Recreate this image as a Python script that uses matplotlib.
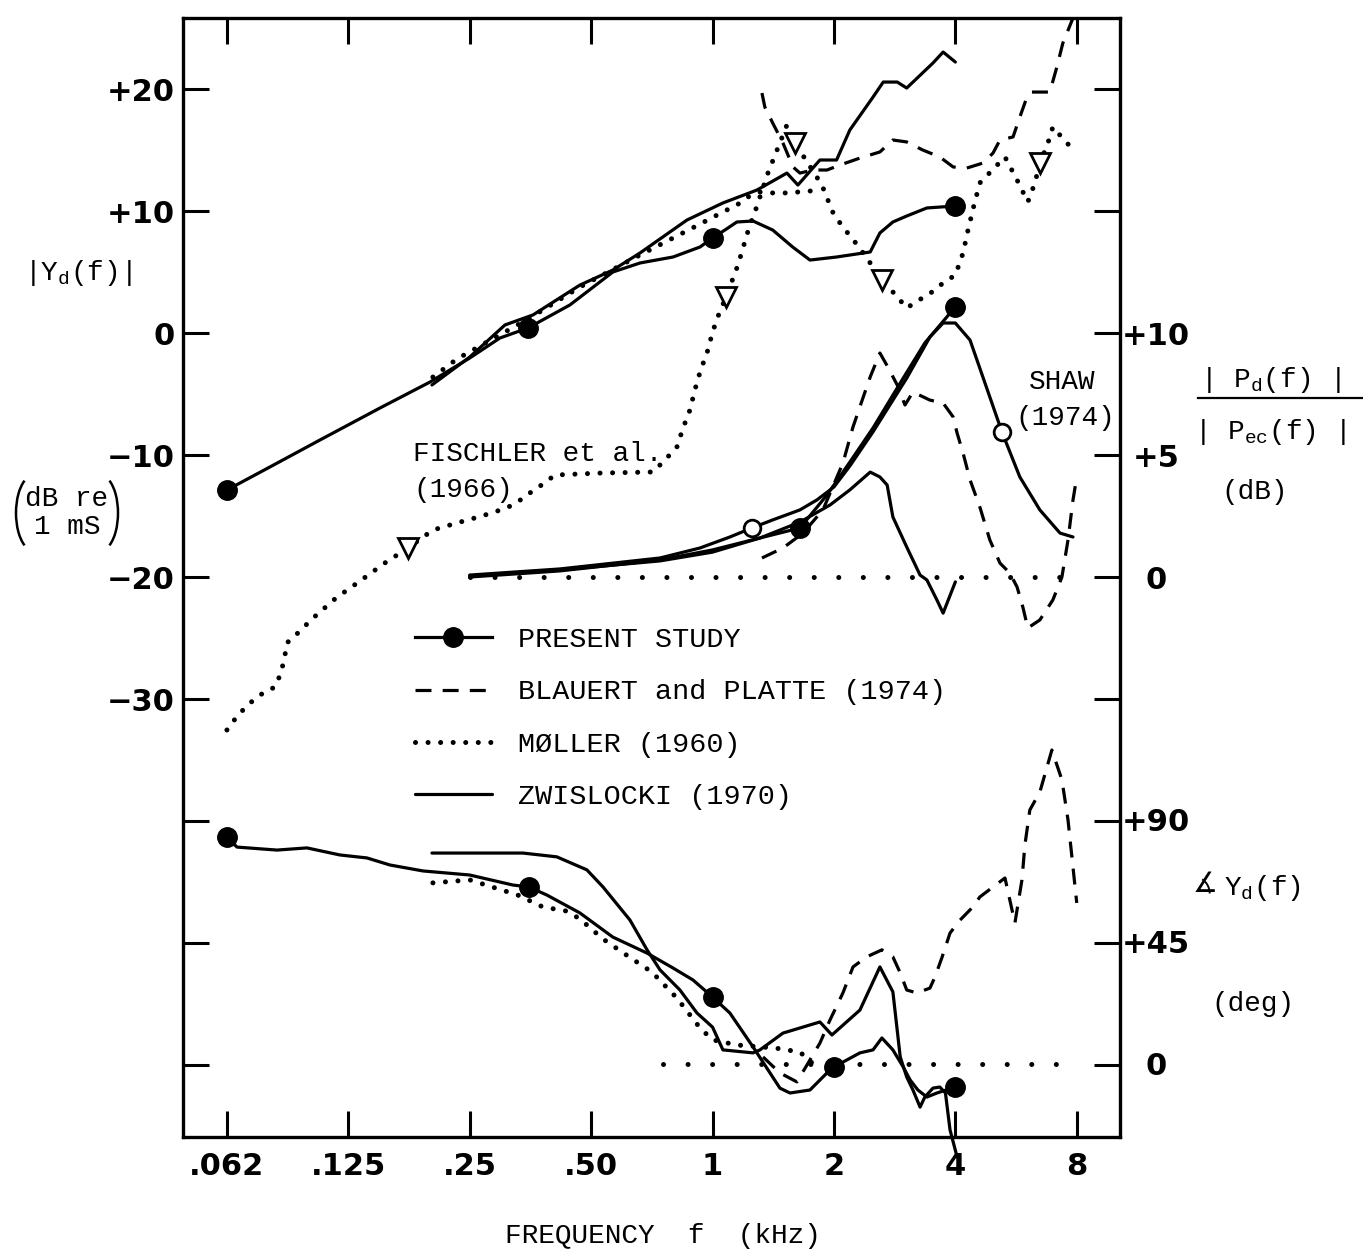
import matplotlib
matplotlib.use("Agg")
import matplotlib.pyplot as plt
from matplotlib.lines import Line2D
from matplotlib.patches import Arc
from matplotlib.ticker import NullLocator
from matplotlib.font_manager import FontProperties

# ---------------- data (frequency in kHz) ----------------
# |Y_d(f)|  (dB re 1 mS)
present_mag_f = [0.0625, 0.0799, 0.1063, 0.1497, 0.1992, 0.25, 0.297, 0.3486, 0.443, 0.566, 0.661, 0.798,
                 0.931, 1.0, 1.073, 1.149, 1.26, 1.41, 1.58, 1.744, 2.03, 2.46, 2.60, 2.80, 3.03, 3.40, 4.0]
present_mag_db = [-12.87, -10.98, -8.77, -6.15, -4.02, -2.05, -0.41, 0.41, 2.30, 5.0, 5.74, 6.23,
                  7.05, 7.79, 8.44, 9.10, 9.18, 8.44, 7.05, 5.98, 6.23, 6.64, 8.20, 9.10, 9.59, 10.25, 10.41]
present_mag_pts_f = [0.0625, 0.3486, 1.0, 4.0]
present_mag_pts_db = [-12.87, 0.41, 7.79, 10.41]

zwis_mag_f = [0.2015, 0.25, 0.3057, 0.3587, 0.469, 0.566, 0.661, 0.864, 1.061, 1.289, 1.529, 1.628,
              1.846, 2.03, 2.19, 2.50, 2.65, 2.87, 3.03, 3.52, 3.73, 4.0]
zwis_mag_db = [-4.26, -1.97, 0.66, 1.48, 3.93, 5.16, 6.56, 9.26, 10.66, 11.72, 13.11, 12.13,
               14.18, 14.18, 16.64, 19.34, 20.57, 20.57, 20.08, 22.13, 23.03, 22.21]

moller_mag_f = [0.2026, 0.2324, 0.268, 0.3525, 0.469, 0.661, 0.931, 1.061, 1.149, 1.224, 1.311, 1.41, 1.529, 1.867]
moller_mag_db = [-3.61, -2.13, -0.98, 1.23, 3.77, 6.39, 8.93, 9.92, 10.49, 11.15, 11.56, 11.48, 11.48, 11.72]

fischler_f = [0.0625, 0.0666, 0.0713, 0.0768, 0.0822, 0.0851, 0.0870, 0.0880, 0.0943, 0.1016, 0.1165, 0.1336,
              0.154, 0.1757, 0.2026, 0.2324, 0.268, 0.309, 0.331, 0.3525, 0.3797, 0.4067, 0.526, 0.712,
              0.762, 0.816, 0.845, 0.879, 0.904, 0.931, 0.974, 1.0, 1.037, 1.080, 1.156, 1.231, 1.281,
              1.372, 1.529, 1.601, 1.867, 2.0, 2.154, 2.307, 2.46, 2.63, 2.83, 3.03, 3.25, 3.50, 3.73,
              4.0, 4.18, 4.30, 4.45, 4.60, 5.31, 5.69, 6.05, 6.30, 6.48, 6.75, 6.98, 7.48, 8.0]
fischler_db = [-32.54, -31.31, -30.33, -29.51, -29.02, -27.87, -26.48, -25.41, -24.51, -23.44, -21.72, -20.33,
               -18.85, -17.62, -16.15, -15.57, -15.0, -14.34, -13.77, -13.11, -12.38, -11.64, -11.48, -11.39,
               -10.41, -9.34, -7.79, -6.31, -4.67, -3.20, -1.39, 0.08, 1.56, 2.95, 5.57, 8.61, 10.16,
               13.11, 17.05, 15.57, 12.13, 9.67, 8.28, 7.05, 5.74, 4.34, 3.20, 2.05, 2.70, 3.36, 4.10,
               4.75, 6.56, 8.44, 10.49, 12.30, 14.43, 12.54, 10.74, 12.30, 13.93, 15.33, 16.89, 15.74, 14.75]
fischler_tri_f = [0.1757, 1.080, 1.601, 2.63, 6.48]
fischler_tri_db = [-17.62, 2.95, 15.57, 4.34, 13.93]

blauert_mag_f = [1.326, 1.348, 1.41, 1.495, 1.583, 1.647, 1.774, 1.922, 2.07, 2.32, 2.60, 2.80, 3.03, 3.32,
                 3.66, 3.95, 4.27, 4.68, 4.96, 5.16, 5.56, 5.78, 6.02, 6.19, 6.86, 7.14, 7.39, 7.83]
blauert_mag_db = [19.67, 18.52, 17.21, 15.57, 13.61, 13.11, 13.36, 13.36, 13.77, 14.34, 14.84, 15.82, 15.66, 15.0,
                  14.43, 13.61, 13.52, 13.93, 14.75, 15.82, 16.07, 17.70, 19.34, 19.75, 19.75, 21.80, 23.77, 25.82]

# |P_d(f)| / |P_ec(f)|  (dB)
present_p_f = [0.25, 0.418, 0.741, 1.0, 1.311, 1.647, 1.922, 2.19, 2.50, 2.92, 3.36, 4.0]
present_p_db = [0.04, 0.29, 0.66, 1.02, 1.60, 2.01, 3.36, 4.71, 6.11, 7.95, 9.59, 11.07]
present_p_pts_f = [1.647, 4.0]
present_p_pts_db = [2.01, 11.07]

shaw_f = [0.25, 0.418, 0.741, 0.931, 1.104, 1.252, 1.41, 1.647, 1.815, 2.0, 2.19, 2.50, 3.03, 3.46, 3.73,
          4.0, 4.35, 4.68, 5.22, 5.78, 6.48, 7.27, 7.83]
shaw_db = [0.08, 0.33, 0.78, 1.19, 1.64, 2.01, 2.34, 2.75, 3.16, 3.69, 4.55, 5.95, 8.15, 9.84, 10.41,
           10.41, 9.71, 8.20, 5.94, 4.10, 2.75, 1.80, 1.64]
shaw_pts_f = [1.252, 5.22]
shaw_pts_db = [2.01, 5.94]

zwis_p_f = [0.25, 0.418, 0.741, 1.0, 1.311, 1.647, 1.955, 2.19, 2.46, 2.60, 2.71, 2.80, 3.03, 3.27, 3.40,
            3.60, 3.73, 4.0]
zwis_p_db = [0.0, 0.25, 0.70, 1.11, 1.60, 2.25, 2.95, 3.57, 4.30, 4.10, 3.77, 2.46, 1.23, 0.08, -0.12,
             -0.94, -1.48, -0.20]

blauert_p_f = [1.326, 1.495, 1.676, 1.878, 2.105, 2.23, 2.35, 2.46, 2.60, 2.72, 2.87, 3.0, 3.14, 3.46, 3.73,
               3.95, 4.04, 4.18, 4.35, 4.60, 4.87, 5.16, 5.46, 5.69, 5.88, 6.05, 6.48, 6.98, 7.35, 7.61,
               7.83, 8.0]
blauert_p_db = [0.78, 1.19, 1.80, 2.75, 4.67, 6.15, 7.25, 8.20, 9.18, 8.61, 7.87, 7.05, 7.58, 7.25, 7.13,
                6.56, 5.90, 5.08, 3.98, 2.87, 1.52, 0.57, 0.16, -0.41, -1.23, -2.09, -1.76, -0.94, 0.0, 1.52,
                3.16, 4.10]

moller_p_f = [0.25, 8.0]
moller_p_db = [0.0, 0.0]

# phase of Y_d(f)  (deg)
present_ph_f = [0.0625, 0.0662, 0.0832, 0.0987, 0.1191, 0.139, 0.1585, 0.1914, 0.25, 0.320, 0.3506, 0.3885,
                0.469, 0.566, 0.688, 0.798, 0.894, 1.0, 1.104, 1.26, 1.469, 1.556, 1.744, 1.922, 2.0, 2.32,
                2.50, 2.63, 2.80, 2.97, 3.09, 3.23, 3.40, 3.60, 4.0]
present_ph_deg = [83.7, 80.0, 78.9, 79.7, 77.1, 76.0, 73.4, 71.2, 69.7, 66.0, 65.3, 62.3,
                  55.7, 46.8, 40.9, 35.4, 31.0, 24.7, 18.8, 6.3, -8.9, -10.7, -9.6, -3.3, -1.1, 4.1,
                  5.2, 9.6, 5.2, -1.1, -5.9, -9.6, -12.2, -10.7, -8.5]
present_ph_pts_f = [0.0625, 0.3506, 1.0, 2.0, 4.0]
present_ph_pts_deg = [83.7, 65.3, 24.7, -1.1, -8.5]

zwis_ph_f = [0.2015, 0.3387, 0.411, 0.488, 0.535, 0.624, 0.688, 0.741, 0.830, 0.915, 1.0, 1.061, 1.26,
             1.311, 1.495, 1.846, 1.977, 2.32, 2.60, 2.80, 2.92, 3.03, 3.14, 3.27, 3.36, 3.52, 3.66,
             3.78, 3.88, 4.04]
zwis_ph_deg = [77.8, 77.8, 76.4, 71.6, 65.3, 53.1, 42.1, 34.7, 27.3, 18.8, 13.6, 5.2, 4.1,
               5.2, 11.4, 15.5, 10.7, 19.9, 35.8, 26.6, 2.6, -4.8, -9.6, -15.9, -12.2, -8.9, -8.5,
               -10.7, -24.3, -34.3]

moller_ph_f = [0.2026, 0.25, 0.329, 0.3797, 0.435, 0.469, 0.535, 0.617, 0.7075, 0.816, 0.931, 1.0,
               1.149, 1.428, 1.647, 1.764]
moller_ph_deg = [66.8, 67.9, 62.3, 57.9, 56.4, 53.5, 46.1, 39.8, 33.9, 24.3, 13.3, 8.9,
                 7.0, 5.9, 4.4, 0.4]

zero_ph_f = [0.753, 8.0]
zero_ph_deg = [0.0, 0.0]

blauert_ph_f = [1.334, 1.469, 1.619, 1.714, 1.846, 1.955, 2.105, 2.23, 2.41, 2.63, 2.80, 2.92, 3.03, 3.21,
                3.46, 3.56, 3.71, 3.88, 4.11, 4.42, 4.60, 4.96, 5.31, 5.62, 5.85, 5.95, 6.12, 6.48, 6.94,
                7.35, 7.61, 8.0]
blauert_ph_deg = [2.6, -3.3, -6.6, -0.4, 7.7, 16.2, 26.2, 35.8, 39.5, 42.1, 39.5, 33.6, 27.3, 26.2,
                  28.0, 32.1, 39.5, 48.3, 53.1, 57.9, 61.6, 65.3, 68.6, 52.0, 67.9, 80.8, 93.7, 100.3, 115.8,
                  104.8, 90.0, 59.4]

x_ticks = [0.0625, 0.125, 0.25, 0.5, 1, 2, 4, 8]
x_ticklabels = ['.062', '.125', '.25', '.50', '1', '2', '4', '8']
mag_ticks = [20, 10, 0, -10, -20, -30, -40, -50, -60]
mag_ticklabels = ['+20', '+10', '0', '\u221210', '\u221220', '\u221230', '', '', '']
p_ticks = [10, 5, 0]
p_ticklabels = ['+10', '+5', '0']
ph_ticks = [90, 45, 0]
ph_ticklabels = ['+90', '+45', '0']

# ---------------- figure ----------------
W, H = 1363, 1251
fig = plt.figure(figsize=(W / 100, H / 100), dpi=100)
L, R, T, B = 183, 1120, 18, 1137
ax = fig.add_axes([L / W, 1 - B / H, (R - L) / W, (B - T) / H])
ax2 = ax.twinx()
ax3 = ax.twinx()

MONO = 'Liberation Mono'
LW = 2.3
solid = dict(color='black', lw=LW, solid_joinstyle='round', solid_capstyle='round')
dashed = dict(color='black', lw=LW, linestyle=(0, (5, 3.5)), dash_capstyle='butt')
dotted = dict(color='black', lw=3.6, linestyle=(0, (0.01, 2.5)), dash_capstyle='round')
dotted_sparse = dict(color='black', lw=3.6, linestyle=(0, (0.01, 4.9)), dash_capstyle='round')

for a in (ax, ax2, ax3):
    a.set_xscale('log', base=2)
    a.set_xlim(0.04864, 10.24)
ax.set_ylim(-65.90, 25.82)
ax2.set_ylim(-22.95, 22.91)
ax3.set_ylim(-26.93, 385.8)

# magnitude panel
ax.plot(fischler_f, fischler_db, **dotted)
ax.plot(moller_mag_f, moller_mag_db, **dotted)
ax.plot(blauert_mag_f, blauert_mag_db, **dashed)
ax.plot(zwis_mag_f, zwis_mag_db, **solid)
ax.plot(present_mag_f, present_mag_db, **solid)
ax.plot(present_mag_pts_f, present_mag_pts_db, 'o', color='black', ms=14, zorder=5)
ax.plot(fischler_tri_f, fischler_tri_db, 'v', ms=14, mfc='white', mec='black', mew=2, zorder=5)

# pressure ratio panel
ax2.plot(moller_p_f, moller_p_db, **dotted_sparse)
ax2.plot(blauert_p_f, blauert_p_db, **dashed)
ax2.plot(zwis_p_f, zwis_p_db, **solid)
ax2.plot(shaw_f, shaw_db, **solid)
ax2.plot(present_p_f, present_p_db, **solid)
ax2.plot(present_p_pts_f, present_p_pts_db, 'o', color='black', ms=14, zorder=5)
ax2.plot(shaw_pts_f, shaw_pts_db, 'o', ms=12, mfc='white', mec='black', mew=2, zorder=5)

# phase panel
ax3.plot(zero_ph_f, zero_ph_deg, **dotted_sparse)
ax3.plot(moller_ph_f, moller_ph_deg, **dotted)
ax3.plot(blauert_ph_f, blauert_ph_deg, **dashed)
ax3.plot(zwis_ph_f, zwis_ph_deg, clip_on=False, **solid)
ax3.plot(present_ph_f, present_ph_deg, **solid)
ax3.plot(present_ph_pts_f, present_ph_pts_deg, 'o', color='black', ms=14, zorder=5)

# axes styling
for a in (ax, ax2, ax3):
    a.xaxis.set_minor_locator(NullLocator())
    a.yaxis.set_minor_locator(NullLocator())
for sp in ax.spines.values():
    sp.set_linewidth(2.4)
for a in (ax2, ax3):
    for sp in a.spines.values():
        sp.set_visible(False)

ax.set_xticks(x_ticks)
ax.set_xticklabels(x_ticklabels)
ax.set_yticks(mag_ticks)
ax.set_yticklabels(mag_ticklabels)
ax.tick_params(axis='both', which='major', direction='in', length=19, width=2.2,
               top=True, bottom=True, left=True, right=True, labelright=False, labeltop=False,
               labelsize=22)
ax.tick_params(axis='x', pad=11)
ax.tick_params(axis='y', pad=6)
for lbl in ax.get_xticklabels() + ax.get_yticklabels():
    lbl.set_fontweight('bold')
    lbl.set_family('DejaVu Sans')

for a, tks, tls in ((ax2, p_ticks, p_ticklabels), (ax3, ph_ticks, ph_ticklabels)):
    a.set_yticks(tks)
    a.set_yticklabels(tls)
    a.tick_params(axis='y', length=0, pad=26, labelsize=22)
    for lbl in a.get_yticklabels():
        lbl.set_ha('center')
        lbl.set_fontweight('bold')

# ---------------- text ----------------
def fx(x):
    return x / W

def fy(y):
    return 1 - y / H

tsize = 20
fig.text(fx(413), fy(454), 'FISCHLER et al.', family=MONO, fontsize=tsize, va='center', ha='left')
fig.text(fx(413), fy(490), '(1966)', family=MONO, fontsize=tsize, va='center', ha='left')
fig.text(fx(1062), fy(382), 'SHAW', family=MONO, fontsize=tsize, va='center', ha='center')
fig.text(fx(1015), fy(418), '(1974)', family=MONO, fontsize=tsize, va='center', ha='left')

# left axis label
fig.text(fx(78), fy(273), r'|Y$_\mathregular{d}$(f)|', family=MONO, fontsize=tsize, va='center', ha='center')
fig.text(fx(67), fy(513), 'dB re\n1 mS', family=MONO, fontsize=tsize, va='center', ha='center',
         linespacing=1.05, multialignment='center')
fig.add_artist(Arc((fx(34), fy(513)), 36 / W, 76 / H, theta1=105, theta2=255, color='black', lw=1.8,
                   transform=fig.transFigure))
fig.add_artist(Arc((fx(100), fy(513)), 36 / W, 76 / H, theta1=-75, theta2=75, color='black', lw=1.8,
                   transform=fig.transFigure))

# right labels
fig.text(fx(1270), fy(380), r'| P$_\mathregular{d}$(f) |', family=MONO, fontsize=tsize, va='center', ha='center')
fig.add_artist(Line2D([fx(1198), fx(1362)], [fy(398), fy(398)], color='black', lw=1.6,
                      transform=fig.transFigure))
fig.text(fx(1270), fy(432), r'| P$_\mathregular{ec}$(f) |', family=MONO, fontsize=tsize, va='center', ha='center')
fig.text(fx(1255), fy(492), '(dB)', family=MONO, fontsize=tsize, va='center', ha='center')
fig.text(fx(1205), fy(884), '\u2221', family='DejaVu Sans', fontsize=tsize, va='center', ha='center')
fig.text(fx(1262), fy(888), r'Y$_\mathregular{d}$(f)', family=MONO, fontsize=tsize, va='center', ha='center')
fig.text(fx(1253), fy(1004), '(deg)', family=MONO, fontsize=tsize, va='center', ha='center')

# x label
fig.text(fx(663), fy(1236), 'FREQUENCY  f  (kHz)', family=MONO, fontsize=tsize, va='center', ha='center')

# legend
handles = [
    Line2D([], [], color='black', lw=LW, marker='o', ms=14),
    Line2D([], [], **dashed),
    Line2D([], [], **dotted),
    Line2D([], [], **solid),
]
labels = ['PRESENT STUDY', 'BLAUERT and PLATTE (1974)', 'M\u00d8LLER (1960)', 'ZWISLOCKI (1970)']
fig.legend(handles, labels, loc='upper left', bbox_to_anchor=(fx(415), fy(627)),
           frameon=False, prop=FontProperties(family=MONO, size=20.5), handlelength=2.7,
           handletextpad=0.9, labelspacing=0.93, borderpad=0, borderaxespad=0, numpoints=1)

fig.savefig('out.png', dpi=100)
